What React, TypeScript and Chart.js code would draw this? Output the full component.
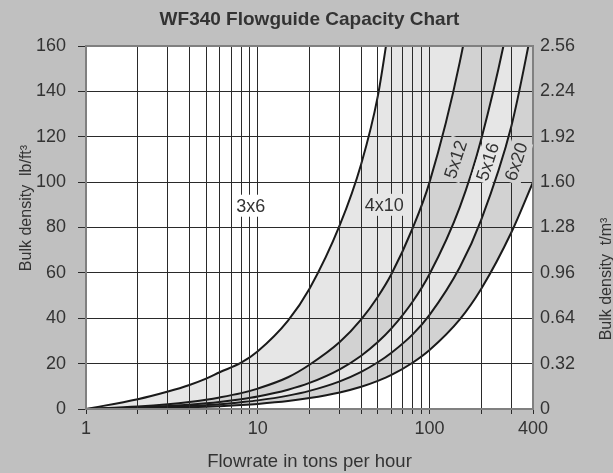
import React, { useEffect, useRef } from 'react';
import { Chart, registerables } from 'chart.js';

Chart.register(...registerables);

// ---- data ----
const flowrate = [1, 2, 3, 4, 5, 6, 8, 10, 15, 20, 30, 40, 50, 60, 80, 100, 150, 200, 300, 400];
const curveA = [0, 4.3, 7.7, 10.6, 13.4, 16.2, 20.4, 25.5, 39, 53, 81, 108, 138, 176, 235, 295, 440, 585, 875, 1165];
const curveB = [0, 1.1, 2.1, 3.1, 4.1, 5.1, 7, 9, 14, 19.5, 29.5, 39.5, 49.5, 59.5, 80, 100, 153, 206, 310, 415];
const curveC = [0, 0.65, 1.3, 1.9, 2.5, 3.1, 4.3, 5.5, 8.5, 11.5, 17.5, 23.5, 29.5, 35.5, 47.5, 59.5, 89, 119, 178, 238];
const curveD = [0, 0.45, 0.9, 1.3, 1.7, 2.1, 3, 3.8, 5.9, 8, 12.2, 16.4, 20.6, 24.8, 33, 41.5, 62.5, 83.5, 125, 170];
const curveE = [0, 0.25, 0.5, 0.75, 1, 1.25, 1.75, 2.25, 3.5, 4.8, 7.3, 9.8, 12.4, 15, 20.5, 26, 39.5, 53, 78, 100];
const curves = [curveA, curveB, curveC, curveD, curveE];

const xGridValues = [1, 2, 3, 4, 5, 6, 7, 8, 9, 10, 20, 30, 40, 50, 60, 70, 80, 90, 100, 200, 300, 400];
const xLabelValues = [1, 10, 100, 400];
const yLeftTicks = [0, 20, 40, 60, 80, 100, 120, 140, 160];
const yRightTicks = ['0', '0.32', '0.64', '0.96', '1.28', '1.60', '1.92', '2.24', '2.56'];

const bandNames = ['3x6', '4x10', '5x12', '5x16', '6x20'];
const bandLabelX = [9.1, 54.4, 141.6, 218, 319];
const bandLabelY = [89.6, 90, 110, 109, 109];

const titleText = 'WF340 Flowguide Capacity Chart';
const xTitle = 'Flowrate in tons per hour';
const yLeftTitle = 'Bulk density  lb/ft³';
const yRightTitle = 'Bulk density  t/m³';

// ---- styles ----
const FONT = '"Liberation Sans", Arial, Helvetica, sans-serif';
const TEXT = '#333333';
const LIGHT = '#e6e6e6';
const DARK = '#d2d2d2';
const bandFill = [LIGHT, DARK, LIGHT, DARK];
const labelBg = ['#ffffff', LIGHT, DARK, LIGHT, DARK];
const labelAngle = [0, 0, -72, -72, -72];
const GRID = '#2a2a2a';

const decorPlugin = {
  id: 'decor',
  beforeDraw(chart: any) {
    const { ctx, chartArea: a } = chart;
    ctx.save();
    ctx.fillStyle = '#c0c0c0';
    ctx.fillRect(0, 0, chart.width, chart.height);
    ctx.fillStyle = '#ffffff';
    ctx.fillRect(a.left, a.top, a.right - a.left, a.bottom - a.top);
    ctx.restore();
  },
  afterDraw(chart: any) {
    const { ctx, chartArea: a } = chart;
    const xs = chart.scales.x;
    const ys = chart.scales.y;
    ctx.save();
    // frame
    ctx.strokeStyle = '#808080';
    ctx.lineWidth = 2;
    ctx.strokeRect(a.left, a.top, a.right - a.left, a.bottom - a.top);

    // band labels
    ctx.font = '18px ' + FONT;
    ctx.textAlign = 'center';
    ctx.textBaseline = 'middle';
    bandNames.forEach((name, i) => {
      const px = xs.getPixelForValue(bandLabelX[i]);
      const py = ys.getPixelForValue(bandLabelY[i]);
      const w = ctx.measureText(name).width;
      ctx.save();
      ctx.translate(px, py);
      ctx.rotate((labelAngle[i] * Math.PI) / 180);
      ctx.fillStyle = labelBg[i];
      ctx.fillRect(-w / 2 - 2, -11, w + 4, 22);
      ctx.fillStyle = TEXT;
      ctx.fillText(name, 0, 1);
      ctx.restore();
    });

    // titles
    ctx.fillStyle = TEXT;
    ctx.textAlign = 'center';
    ctx.textBaseline = 'alphabetic';
    ctx.font = 'bold 19px ' + FONT;
    ctx.fillText(titleText, (a.left + a.right) / 2, 25);
    ctx.font = '18.5px ' + FONT;
    ctx.fillText(xTitle, (a.left + a.right) / 2, 467);

    ctx.font = '16px ' + FONT;
    ctx.save();
    ctx.translate(31, 208);
    ctx.rotate(-Math.PI / 2);
    ctx.fillText(yLeftTitle, 0, 0);
    ctx.restore();

    ctx.save();
    ctx.translate(611, 279);
    ctx.rotate(-Math.PI / 2);
    ctx.fillText(yRightTitle, 0, 0);
    ctx.restore();

    ctx.restore();
  },
};

export default function App() {
  const ref = useRef<HTMLCanvasElement>(null);

  useEffect(() => {
    if (!ref.current) return;
    const datasets = curves.map((c, i) => ({
      label: bandNames[i],
      data: flowrate.map((x, j) => ({ x, y: c[j] })),
      borderColor: '#1a1a1a',
      borderWidth: 2,
      pointRadius: 0,
      cubicInterpolationMode: 'monotone' as const,
      fill: i < curves.length - 1 ? '+1' : false,
      backgroundColor: i < curves.length - 1 ? bandFill[i] : 'transparent',
      xAxisID: 'x',
      yAxisID: 'y',
    }));

    const chart = new Chart(ref.current, {
      type: 'line',
      data: { datasets },
      plugins: [decorPlugin],
      options: {
        animation: false,
        responsive: false,
        maintainAspectRatio: false,
        devicePixelRatio: 1,
        layout: { padding: { top: 46, left: 0, right: 0, bottom: 0 } },
        plugins: {
          legend: { display: false },
          tooltip: { enabled: false },
          title: { display: false },
          filler: { propagate: false, drawTime: 'beforeDatasetsDraw' },
        },
        scales: {
          x: {
            type: 'logarithmic',
            min: 1,
            max: 400,
            afterBuildTicks: (s: any) => {
              s.ticks = xGridValues.map((v) => ({ value: v }));
            },
            afterFit: (s: any) => {
              s.height = 64;
            },
            ticks: {
              autoSkip: false,
              maxRotation: 0,
              padding: 4,
              color: TEXT,
              font: { family: FONT, size: 18 },
              callback: (v: any) => (xLabelValues.includes(Number(v)) ? String(v) : ''),
            },
            grid: { color: GRID, lineWidth: 1, tickLength: 5, z: 1 },
            border: { display: false },
          },
          y: {
            position: 'left',
            min: 0,
            max: 160,
            afterBuildTicks: (s: any) => {
              s.ticks = yLeftTicks.map((v) => ({ value: v }));
            },
            afterFit: (s: any) => {
              s.width = 86;
            },
            ticks: {
              padding: 12,
              color: TEXT,
              font: { family: FONT, size: 18 },
              callback: (v: any) => String(v),
            },
            grid: { color: GRID, lineWidth: 1, tickLength: 8, z: 1 },
            border: { display: false },
          },
          y2: {
            position: 'right',
            min: 0,
            max: 2.56,
            afterBuildTicks: (s: any) => {
              s.ticks = yRightTicks.map((v) => ({ value: parseFloat(v) }));
            },
            afterFit: (s: any) => {
              s.width = 80;
            },
            ticks: {
              padding: 7,
              color: TEXT,
              font: { family: FONT, size: 18 },
              callback: (_v: any, i: number) => yRightTicks[i],
            },
            grid: { display: false, drawOnChartArea: false, drawTicks: false, tickLength: 0 },
            border: { display: false },
          },
        },
      } as any,
    });
    return () => chart.destroy();
  }, []);

  return (
    <canvas
      ref={ref}
      width={613}
      height={473}
      style={{ position: 'fixed', left: 0, top: 0, width: 613, height: 473, display: 'block' }}
    />
  );
}
